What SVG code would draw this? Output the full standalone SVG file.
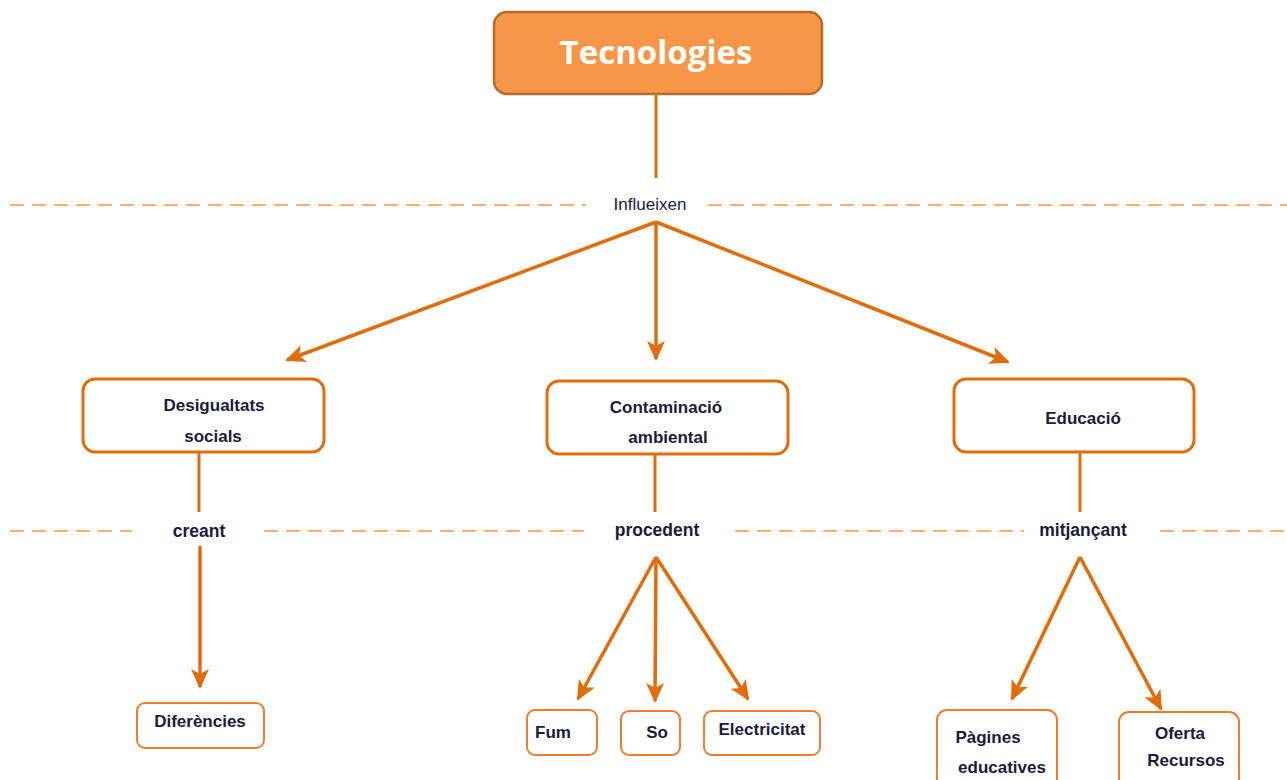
<svg xmlns="http://www.w3.org/2000/svg" width="1287" height="780" viewBox="0 0 1287 780">
<defs>
<marker id="ah" viewBox="0 0 20 18" refX="18" refY="9" markerWidth="20" markerHeight="18" markerUnits="userSpaceOnUse" orient="auto">
<path d="M0,0 L20,9 L0,18 L5,9 Z" fill="#E36C0A"/>
</marker>
<style>
.bg{fill:#fff}
.mid{fill:#fff;stroke:#E36C0A;stroke-width:3}
.leaf{fill:#fff;stroke:#EE7E2E;stroke-width:2}
.t{font-family:"Liberation Sans",Arial,sans-serif;font-weight:bold;font-size:17px;fill:#1B1B3A;text-anchor:middle}
.lbl{font-family:"Liberation Sans",Arial,sans-serif;font-weight:bold;font-size:17.5px;fill:#1B1B3A;text-anchor:middle}
.ln{stroke:#E36C0A;stroke-width:3;fill:none}
.ar{stroke:#E36C0A;stroke-width:3.5;fill:none;marker-end:url(#ah)}
.dash{stroke:#F79646;stroke-width:1.5;stroke-dasharray:14 8;fill:none}
</style>
</defs>
<rect class="bg" width="1287" height="780"/>
<g id="guides">
<line class="dash" x1="10" y1="205" x2="586" y2="205"/>
<line class="dash" x1="708" y1="205" x2="1287" y2="205"/>
<line class="dash" x1="10" y1="531" x2="132" y2="531"/>
<line class="dash" x1="264" y1="531" x2="584" y2="531"/>
<line class="dash" x1="735" y1="531" x2="1024" y2="531"/>
<line class="dash" x1="1160" y1="531" x2="1287" y2="531"/>
</g>
<g id="connectors">
<line class="ln" x1="656" y1="94" x2="656" y2="178"/>
<line class="ar" x1="656" y1="222" x2="287" y2="360"/>
<line class="ar" x1="656" y1="222" x2="656" y2="359"/>
<line class="ar" x1="656" y1="222" x2="1008" y2="362"/>
<line class="ln" x1="199" y1="452" x2="199" y2="512"/>
<line class="ar" x1="200" y1="546" x2="200" y2="687"/>
<line class="ln" x1="655" y1="454" x2="655" y2="512"/>
<line class="ar" x1="656" y1="557" x2="578" y2="699"/>
<line class="ar" x1="656" y1="557" x2="655" y2="701"/>
<line class="ar" x1="656" y1="557" x2="748" y2="699"/>
<line class="ln" x1="1080" y1="452" x2="1080" y2="512"/>
<line class="ar" x1="1080" y1="557" x2="1012" y2="699"/>
<line class="ar" x1="1080" y1="557" x2="1161" y2="709"/>
<text class="lbl" x="650" y="210" style="font-weight:normal;font-size:17px">Influeixen</text>
<text class="lbl" x="199" y="537">creant</text>
<text class="lbl" x="657" y="536">procedent</text>
<text class="lbl" x="1083" y="536">mitjançant</text>
</g>
<g id="n-tecnologies">
<rect x="494" y="12" width="328" height="82" rx="13" fill="#F79646" stroke="#B96A2B" stroke-width="2.5"/>
<text x="656" y="64" font-family="'Open Sans','Liberation Sans',sans-serif" font-weight="bold" font-size="33" fill="#fff" text-anchor="middle">Tecnologies</text>
</g>
<g id="n-desigualtats">
<rect class="mid" x="83" y="379" width="241" height="73" rx="12"/>
<text class="t" x="214" y="411">Desigualtats</text>
<text class="t" x="213" y="442">socials</text>
</g>
<g id="n-contaminacio">
<rect class="mid" x="547" y="381" width="241" height="73" rx="12"/>
<text class="t" x="666" y="413">Contaminació</text>
<text class="t" x="668" y="443">ambiental</text>
</g>
<g id="n-educacio">
<rect class="mid" x="954" y="379" width="240" height="73" rx="12"/>
<text class="t" x="1083" y="424">Educació</text>
</g>
<g id="n-diferencies">
<rect class="leaf" x="137" y="703" width="127" height="45" rx="8"/>
<text class="t" x="200" y="727">Diferències</text>
</g>
<g id="n-fum">
<rect class="leaf" x="527" y="710" width="70" height="45" rx="8"/>
<text class="t" x="553" y="738">Fum</text>
</g>
<g id="n-so">
<rect class="leaf" x="621" y="711" width="59" height="44" rx="8"/>
<text class="t" x="657" y="738">So</text>
</g>
<g id="n-electricitat">
<rect class="leaf" x="704" y="711" width="116" height="44" rx="8"/>
<text class="t" x="762" y="735">Electricitat</text>
</g>
<g id="n-pagines">
<rect class="leaf" x="937" y="710" width="120" height="80" rx="10"/>
<text class="t" x="988" y="743">Pàgines</text>
<text class="t" x="1002" y="773">educatives</text>
</g>
<g id="n-oferta">
<rect class="leaf" x="1119" y="712" width="120" height="80" rx="10"/>
<text class="t" x="1180" y="739">Oferta</text>
<text class="t" x="1186" y="766">Recursos</text>
</g>
</svg>
